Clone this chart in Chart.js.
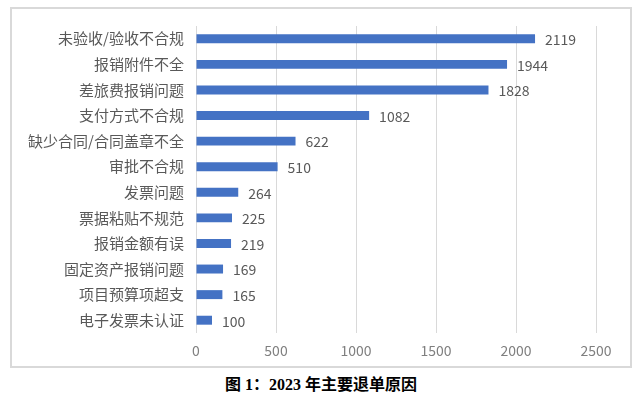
<!DOCTYPE html>
<html>
<head>
<meta charset="utf-8">
<script src="https://cdn.jsdelivr.net/npm/chart.js@4/dist/chart.umd.min.js"></script>
<style>
  html, body { margin: 0; padding: 0; background: #fff; }
  #frame {
    position: absolute; left: 10px; top: 7px;
    width: 618px; height: 357px;
    border: 2px solid #d9d9d9;
  }
  #myChart { display: block; }
  #caption {
    position: absolute; left: 0; top: 371px; width: 642px;
    text-align: center;
    font-family: "Liberation Serif", "Noto Sans CJK SC", serif;
    font-weight: bold; font-size: 16px; color: #000;
  }
</style>
</head>
<body>
<div id="frame"><canvas id="myChart" width="618" height="357"></canvas></div>
<div id="caption">图 1：2023 年主要退单原因</div>
<script>
const reasons = ['未验收/验收不合规', '报销附件不全', '差旅费报销问题', '支付方式不合规',
  '缺少合同/合同盖章不全', '审批不合规', '发票问题', '票据粘贴不规范',
  '报销金额有误', '固定资产报销问题', '项目预算项超支', '电子发票未认证'];
const counts = [2119, 1944, 1828, 1082, 622, 510, 264, 225, 219, 169, 165, 100];
const xTicks = [0, 500, 1000, 1500, 2000, 2500];

const cjk = '"Noto Sans CJK SC", "Noto Sans", sans-serif';

// value labels at the end of each bar
const valueLabels = {
  id: 'valueLabels',
  afterDatasetsDraw(chart) {
    const ctx = chart.ctx;
    const meta = chart.getDatasetMeta(0);
    ctx.save();
    ctx.font = '14px ' + cjk;
    ctx.fillStyle = '#595959';
    ctx.textAlign = 'left';
    ctx.textBaseline = 'middle';
    meta.data.forEach((bar, i) => {
      ctx.fillText(counts[i], bar.x + 10, bar.y + 1);
    });
    ctx.restore();
  }
};

new Chart(document.getElementById('myChart').getContext('2d'), {
  type: 'bar',
  data: {
    labels: reasons,
    datasets: [{
      data: counts,
      backgroundColor: '#4472c4',
      borderWidth: 0,
      categoryPercentage: 0.7,
      barPercentage: 0.5
    }]
  },
  plugins: [valueLabels],
  options: {
    indexAxis: 'y',
    responsive: false,
    animation: false,
    layout: { padding: { top: 17, right: 34, left: 0, bottom: 0 } },
    plugins: {
      legend: { display: false },
      tooltip: { enabled: false }
    },
    scales: {
      x: {
        min: 0,
        max: 2500,
        afterBuildTicks(scale) {
          scale.ticks = xTicks.map(v => ({ value: v }));
        },
        afterFit(scale) {
          scale.height = 33;
          scale.paddingLeft = 0;
          scale.paddingRight = 0;
        },
        grid: { color: '#d9d9d9', lineWidth: 1, drawTicks: false },
        border: { display: false },
        ticks: {
          padding: 9,
          color: '#7f7f7f',
          font: { size: 14, family: cjk },
          callback: v => String(v)
        }
      },
      y: {
        afterFit(scale) {
          scale.width = 184;
          scale.paddingTop = 0;
          scale.paddingBottom = 0;
        },
        grid: { display: false, drawTicks: false },
        border: { display: false },
        ticks: {
          padding: 12,
          color: '#595959',
          font: { size: 15, family: cjk }
        }
      }
    }
  }
});
</script>
</body>
</html>
